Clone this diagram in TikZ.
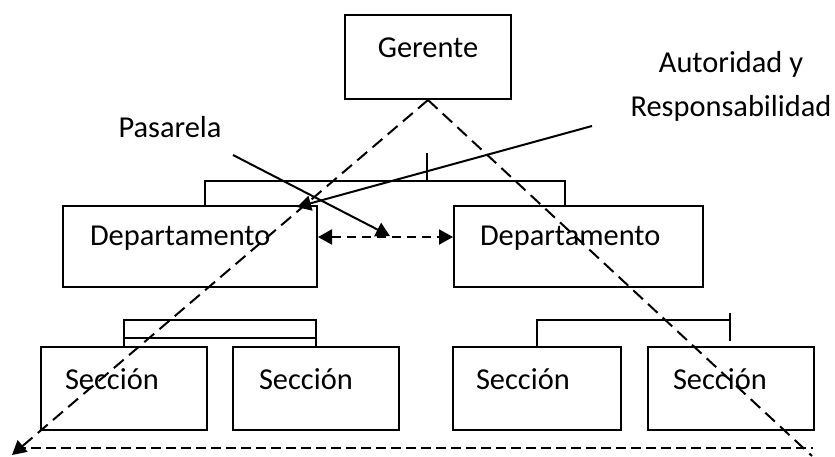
\documentclass[tikz,border=0pt]{standalone}
\usepackage{fontspec}
\setmainfont{Carlito}
\usetikzlibrary{arrows.meta,calc}
\begin{document}
\begin{tikzpicture}[x=0.5pt,y=-0.5pt, line width=1pt,
 box/.style={draw, line width=1pt, inner sep=0pt},
 lbl/.style={inner sep=0pt, font=\fontsize{15.2}{22}\selectfont},
 dsh/.style={dash pattern=on 6.5pt off 3.5pt},
 tip/.style={-{Triangle[length=7pt,width=7.5pt]}}]
\useasboundingbox (0,0) rectangle (835,456);
% boxes
\node[box, minimum width=83pt, minimum height=42pt] (g) at (428,57) {};
\node[box, minimum width=127pt, minimum height=40.5pt] (ld) at (190,246.5) {};
\node[box, minimum width=124.5pt, minimum height=40.5pt] (rd) at (578.5,246.5) {};
\node[box, minimum width=83pt, minimum height=41.5pt] (s1) at (124,388.5) {};
\node[box, minimum width=83pt, minimum height=41.5pt] (s2) at (316,388.5) {};
\node[box, minimum width=84pt, minimum height=41.5pt] (s3) at (537,388.5) {};
\node[box, minimum width=83pt, minimum height=41.5pt] (s4) at (731,388.5) {};
% texts
\node[lbl] (tg) at (428,48) {Gerente};
\node[lbl, anchor=west] (tld) at (89,238) {Departamento};
\node[lbl, anchor=west] (trd) at (479,238) {Departamento};
\node[lbl, anchor=west] (ts1) at (64,379) {Sección};
\node[lbl, anchor=west] (ts2) at (258,379) {Sección};
\node[lbl, anchor=west] (ts3) at (475,379) {Sección};
\node[lbl, anchor=west] (ts4) at (672,379) {Sección};
\node[lbl, align=center] (tar) at (731,86) {Autoridad y\\Responsabilidad};
\node[lbl] (tpa) at (170,127) {Pasarela};
% org connectors
\coordinate (t0) at (427,153);
\coordinate (t1) at (427,181);
\draw (t0) -- (t1);
\draw ($(ld.north west)+(143,0)$) |- (t1) -| ($(rd.north west)+(112,0)$);
\coordinate (la) at (316,320);
\draw (s1.north) |- (la) -- (s2.north);
\draw ($(s1.north)+(0,-8)$) -- ($(s2.north)+(0,-8)$);
\coordinate (ra) at (730,320);
\draw (s3.north) |- (ra);
\coordinate (rb) at (730,313);
\coordinate (rc) at (730,341);
\draw (rb) -- (rc);
% arrows
\coordinate (pa) at (233,155);
\coordinate (pt) at (390,236);
\draw[tip] (pa) -- (pt);
\coordinate (aa) at (592,126);
\coordinate (at) at (297,207);
\draw[tip] (aa) -- (at);
\draw[dash pattern=on 4.5pt off 3pt, {Triangle[length=7pt,width=7.5pt]}-{Triangle[length=7pt,width=7.5pt]}]
  ($(ld.east)+(0,-9.5)$) -- ($(rd.west)+(0,-9.5)$);
% triangle
\coordinate (bl) at (12,455);
\coordinate (br) at (812,456);
\draw[dsh, tip] (g.south) -- (bl);
\draw[dsh] (g.south) -- (br);
\coordinate (b1) at (16,448);
\coordinate (b2) at (813,448);
\draw[dash pattern=on 5pt off 2.5pt] (b1) -- (b2);
\end{tikzpicture}
\end{document}
